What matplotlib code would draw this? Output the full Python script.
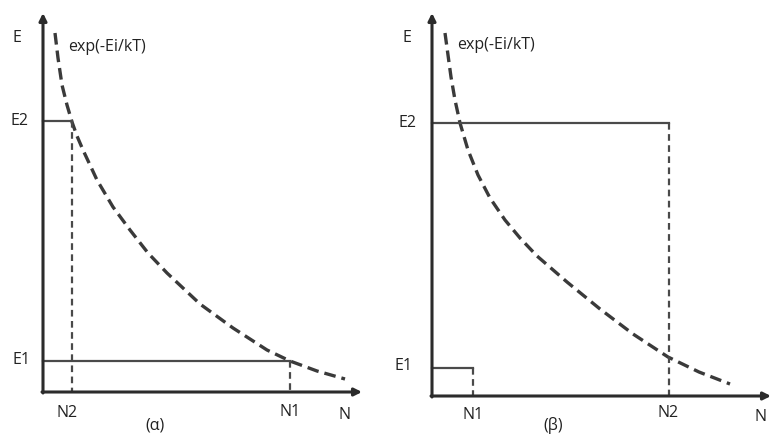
import matplotlib
matplotlib.use("Agg")
import matplotlib.pyplot as plt

plt.rcParams['font.family'] = ['Open Sans', 'DejaVu Sans']

# panel (α) (arbitrary units, origin at the axes corner)
curve_N_a = [12, 15, 19, 24, 29, 34, 40, 54, 70, 87, 105, 124, 157, 190, 224, 247, 274, 302]
curve_E_a = [359, 334, 307, 287, 270, 256, 242, 212, 185, 162, 139, 119, 88, 64, 42, 31, 21, 13]
E_levels_a = [31, 271]      # E1, E2
N_levels_a = [247, 29]      # N1, N2
N_max_a, E_max_a = 319, 379

# panel (β)
curve_N_b = [13, 16, 19, 23, 28, 36, 46, 58, 73, 88, 105, 135, 168, 201, 236, 267, 298]
curve_E_b = [363, 341, 319, 296, 273, 246, 221, 198, 176, 158, 140, 114, 87, 62, 39, 24, 12]
E_levels_b = [28, 273]      # E1, E2
N_levels_b = [41, 237]      # N1, N2
N_max_b, E_max_b = 339, 383

curve_label = 'exp(-Ei/kT)'

W, H = 771, 437


def make_axes(fig, x0, y0, n_max, e_max):
    # x0, y0 = pixel position of the origin, axes extends to n_max / e_max pixels
    ax = fig.add_axes([x0 / W, (H - y0) / H, n_max / W, e_max / H])
    ax.set_xlim(0, n_max)
    ax.set_ylim(0, e_max)
    ax.axis('off')
    return ax


def draw_panel(ax, curve_N, curve_E, E_levels, N_levels, n_max, e_max, title, label_pos):
    axis_col = '#2b2b2b'
    # axes with arrows
    ax.annotate('', xy=(n_max, 0), xytext=(-1, 0),
                arrowprops=dict(arrowstyle='-|>', lw=2.2, color=axis_col,
                                mutation_scale=11, shrinkA=0, shrinkB=0),
                annotation_clip=False)
    ax.annotate('', xy=(0, e_max), xytext=(0, -1),
                arrowprops=dict(arrowstyle='-|>', lw=2.2, color=axis_col,
                                mutation_scale=11, shrinkA=0, shrinkB=0),
                annotation_clip=False)

    # dashed boltzmann curve
    ax.plot(curve_N, curve_E, color='#3a3a3a', lw=2.4, ls=(0, (3.5, 1.8)),
            dash_joinstyle='round', dash_capstyle='butt', clip_on=False)

    # levels: solid horizontal, dashed vertical
    for e, n in zip(E_levels, N_levels):
        ax.plot([0, n], [e, e], color='#4a4a4a', lw=1.6, clip_on=False)
        ax.plot([n, n], [e, 0], color='#4a4a4a', lw=1.6, ls=(0, (3, 2)), clip_on=False)

    fs = 11.5
    for name, pos in label_pos.items():
        if name == curve_label:
            ax.text(pos[0], pos[1], name, fontsize=fs, color='#222222', ha='left', va='center')
        else:
            ax.text(pos[0], pos[1], name, fontsize=fs, color='#222222', ha='center', va='center')
    ax.text(title[1], title[2], title[0], fontsize=fs, color='#222222', ha='center', va='center')


fig = plt.figure(figsize=(W / 100, H / 100), dpi=100)

ax1 = make_axes(fig, 43, 392, N_max_a, E_max_a)
labels_a = {
    'E': (-26, 354),
    curve_label: (25, 345),
    'E2': (-23, 271),
    'E1': (-21, 32),
    'N2': (24, -21),
    'N1': (247, -20),
    'N': (302, -23),
}
draw_panel(ax1, curve_N_a, curve_E_a, E_levels_a, N_levels_a, N_max_a, E_max_a,
           ('(α)', 112, -33), labels_a)

ax2 = make_axes(fig, 432, 396, N_max_b, E_max_b)
labels_b = {
    'E': (-25, 358),
    curve_label: (25, 351),
    'E2': (-25, 273),
    'E1': (-29, 30),
    'N1': (41, -19),
    'N2': (236, -17),
    'N': (328, -21),
}
draw_panel(ax2, curve_N_b, curve_E_b, E_levels_b, N_levels_b, N_max_b, E_max_b,
           ('(β)', 121, -29), labels_b)

plt.savefig('out.png', dpi=100, facecolor='white')
